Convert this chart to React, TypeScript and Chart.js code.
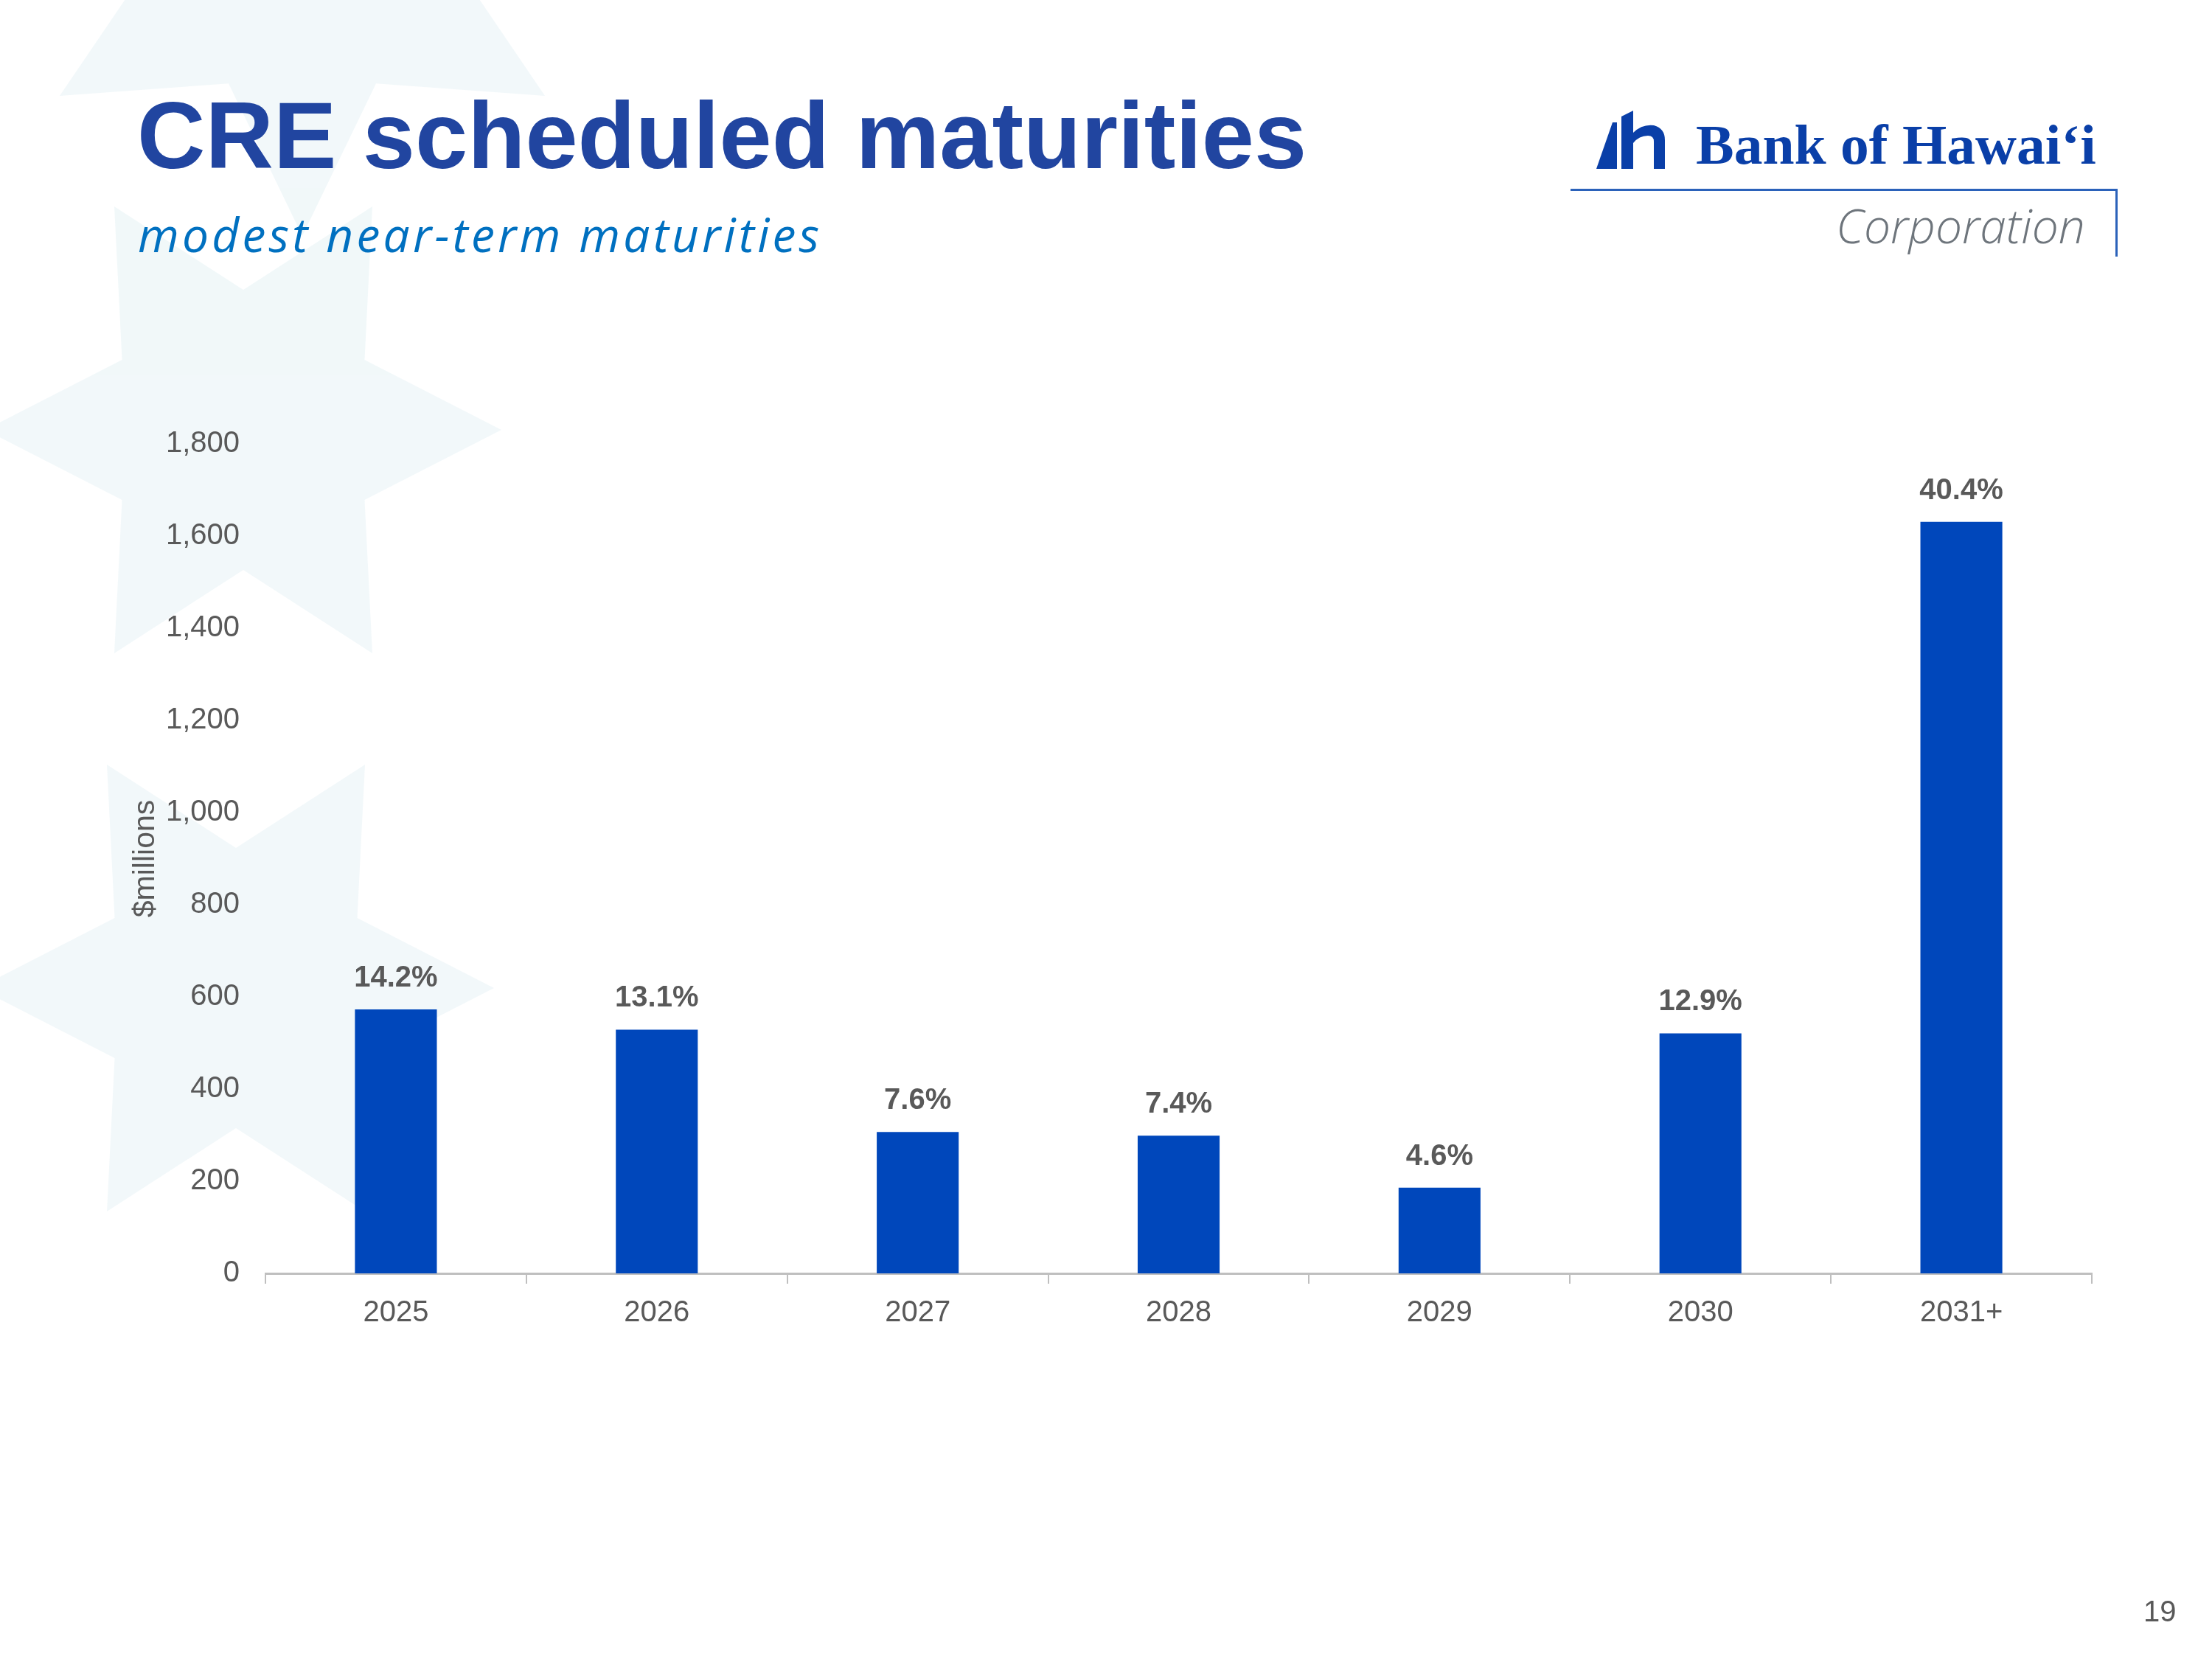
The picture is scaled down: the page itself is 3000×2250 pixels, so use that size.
import React, { useEffect, useRef } from "react";
import { Chart, registerables } from "chart.js";

Chart.register(...registerables);

// ---- data ----
const categories = ["2025", "2026", "2027", "2028", "2029", "2030", "2031+"];
const maturities = [573, 529, 307, 299, 186, 521, 1631];
const shareLabels = ["14.2%", "13.1%", "7.6%", "7.4%", "4.6%", "12.9%", "40.4%"];
const yMin = 0;
const yMax = 1800;
const yStep = 200;
const yAxisTitle = "$millions";

const FONT = "'Liberation Sans', Arial, Helvetica, sans-serif";
const GRAY = "#595959";
const BAR = "#0047BB";

function starPoints(cx: number, cy: number, ro: number, ri: number, n: number, rot: number) {
  const pts: string[] = [];
  for (let i = 0; i < n * 2; i++) {
    const r = i % 2 === 0 ? ro : ri;
    const a = rot + (Math.PI * i) / n;
    pts.push(`${(cx + r * Math.cos(a)).toFixed(1)},${(cy + r * Math.sin(a)).toFixed(1)}`);
  }
  return pts.join(" ");
}

const barLabelPlugin = {
  id: "barLabels",
  afterDatasetsDraw(chart: any) {
    const ctx = chart.ctx;
    const meta = chart.getDatasetMeta(0);
    ctx.save();
    ctx.font = `bold 40px ${FONT}`;
    ctx.fillStyle = GRAY;
    ctx.textAlign = "center";
    ctx.textBaseline = "alphabetic";
    meta.data.forEach((el: any, i: number) => {
      ctx.fillText(shareLabels[i], el.x, el.y - 31);
    });
    ctx.restore();
  },
};

export default function App() {
  const canvasRef = useRef<HTMLCanvasElement | null>(null);

  useEffect(() => {
    document.body.style.margin = "0";
    const canvas = canvasRef.current;
    if (!canvas) return;
    const chart = new Chart(canvas, {
      type: "bar",
      data: {
        labels: categories,
        datasets: [
          {
            data: maturities,
            backgroundColor: BAR,
            borderWidth: 0,
            categoryPercentage: 1,
            barPercentage: 0.314,
          },
        ],
      },
      options: {
        responsive: false,
        maintainAspectRatio: false,
        animation: false,
        devicePixelRatio: 1,
        layout: { padding: { left: 150, top: 602, right: 163, bottom: 403 } },
        plugins: {
          legend: { display: false },
          tooltip: { enabled: false },
        },
        scales: {
          x: {
            grid: {
              display: true,
              drawOnChartArea: false,
              drawTicks: true,
              tickLength: 14,
              color: "#BFBFBF",
              lineWidth: 2,
              offset: true,
            },
            border: { display: true, color: "#BFBFBF", width: 3 },
            ticks: { color: GRAY, font: { size: 40, family: FONT }, padding: 16 },
            afterFit: (s: any) => {
              s.height = 120;
            },
          },
          y: {
            min: yMin,
            max: yMax,
            ticks: {
              stepSize: yStep,
              color: GRAY,
              font: { size: 40, family: FONT },
              padding: 35,
              callback: (v: any) => Number(v).toLocaleString("en-US"),
            },
            grid: { display: false, drawTicks: false },
            border: { display: false },
            title: {
              display: true,
              text: yAxisTitle,
              color: GRAY,
              font: { size: 41, family: FONT },
              padding: { top: 23, bottom: 0 },
            },
            afterFit: (s: any) => {
              s.width = 210;
            },
          },
        },
      },
      plugins: [barLabelPlugin],
    } as any);
    return () => chart.destroy();
  }, []);

  return (
    <div style={{ position: "relative", width: 3000, height: 2250, background: "#ffffff", overflow: "hidden" }}>
      <svg width={3000} height={2250} style={{ position: "absolute", left: 0, top: 0 }}>
        <g fill="#EDF6F8" opacity={0.75}>
          <polygon points={starPoints(330, 583, 350, 190, 6, 0)} />
          <polygon points={starPoints(320, 1340, 350, 190, 6, 0)} />
          <polygon points={starPoints(410, -60, 380, 200, 6, Math.PI / 6)} />
        </g>
      </svg>
      <canvas
        ref={canvasRef}
        width={3000}
        height={2250}
        style={{ position: "absolute", left: 0, top: 0, width: 3000, height: 2250 }}
      />
      <div
        style={{
          position: "absolute",
          left: 186,
          top: 120,
          fontFamily: FONT,
          fontWeight: "bold",
          fontSize: 128,
          lineHeight: 1,
          color: "#2145A0",
          whiteSpace: "nowrap",
        }}
      >
        CRE scheduled maturities
      </div>
      <div
        style={{
          position: "absolute",
          left: 187,
          top: 286,
          fontFamily: "'Open Sans', 'Noto Sans', sans-serif",
          fontStyle: "italic",
          fontSize: 64,
          letterSpacing: 4.2,
          lineHeight: 1,
          color: "#0070C0",
          whiteSpace: "nowrap",
        }}
      >
        modest near-term maturities
      </div>
      {/* logo */}
      <svg width={100} height={85} style={{ position: "absolute", left: 2165, top: 148 }}>
        <g fill="#0A3FA8">
          <path d="M0,81 L22,18 L28,18 L28,81 Z" />
          <path d="M34,10 L50,2 L50,81 L34,81 Z" />
          <path d="M50,32 Q62,20 78,22 Q93,26 93,42 L93,81 L78,81 L78,44 Q78,36 70,36 Q58,36 50,46 Z" />
        </g>
      </svg>
      <div
        style={{
          position: "absolute",
          left: 2300,
          top: 158,
          fontFamily: "'Liberation Serif', 'DejaVu Serif', serif",
          fontWeight: "bold",
          fontSize: 76,
          lineHeight: 1,
          color: "#0A3FA8",
          whiteSpace: "nowrap",
          transformOrigin: "left top",
          transform: "scaleX(1.02)",
        }}
      >
        Bank of Hawai‘i
      </div>
      <div style={{ position: "absolute", left: 2130, top: 256, width: 742, height: 3, background: "#2B62BA" }} />
      <div style={{ position: "absolute", left: 2869, top: 256, width: 3, height: 92, background: "#2B62BA" }} />
      <div
        style={{
          position: "absolute",
          left: 2490,
          top: 274,
          fontFamily: "'Open Sans', 'Noto Sans', sans-serif",
          fontStyle: "italic",
          fontWeight: 300,
          fontSize: 64,
          lineHeight: 1,
          color: "#6E757C",
          whiteSpace: "nowrap",
        }}
      >
        Corporation
      </div>
      <div
        style={{
          position: "absolute",
          left: 2907,
          top: 2165,
          fontFamily: FONT,
          fontSize: 40,
          lineHeight: 1,
          color: GRAY,
        }}
      >
        19
      </div>
    </div>
  );
}
